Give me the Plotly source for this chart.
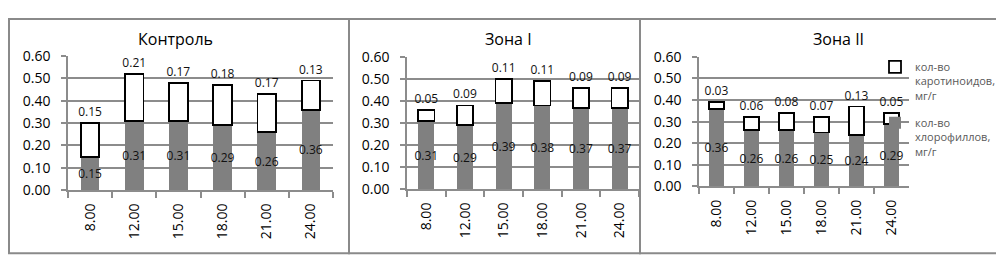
import plotly.graph_objects as go

times = ["8.00", "12.00", "15.00", "18.00", "21.00", "24.00"]
panel_titles = ["Контроль", "Зона I", "Зона II"]
chl_control = [0.15, 0.31, 0.31, 0.29, 0.26, 0.36]
car_control = [0.15, 0.21, 0.17, 0.18, 0.17, 0.13]
chl_zone1 = [0.31, 0.29, 0.39, 0.38, 0.37, 0.37]
car_zone1 = [0.05, 0.09, 0.11, 0.11, 0.09, 0.09]
chl_zone2 = [0.36, 0.26, 0.26, 0.25, 0.24, 0.29]
car_zone2 = [0.03, 0.06, 0.08, 0.07, 0.13, 0.05]
y_ticks = [0.0, 0.1, 0.2, 0.3, 0.4, 0.5, 0.6]
car_name = "кол-во<br>каротиноидов,<br>мг/г"
chl_name = "кол-во<br>хлорофиллов,<br>мг/г"

W, H = 1004, 256
FONT = "Open Sans"
GRID = "#8c8c8c"
GRAYBAR = "#808080"

# panel pixel geometry: (plot left, plot right, y of 0.6, y of 0)
geom = [(60, 325, 41, 186), (399, 631, 42, 185), (691, 901, 42, 182)]
title_x = [167, 500, 830]
borders = [(1, 341), (341, 632), (632, 1001)]

data = [(chl_control, car_control), (chl_zone1, car_zone1), (chl_zone2, car_zone2)]

fig = go.Figure()
for i, (chl, car) in enumerate(data):
    xa = "x" if i == 0 else f"x{i+1}"
    ya = "y" if i == 0 else f"y{i+1}"
    show = i == 2
    fig.add_trace(go.Bar(
        x=times, y=chl, xaxis=xa, yaxis=ya, name=chl_name, legendgroup="chl",
        legendrank=2,
        showlegend=show, marker=dict(color=GRAYBAR, line=dict(width=0)),
        text=[f"{v:.2f}" for v in chl], textposition="inside", insidetextanchor="middle",
        textangle=0, constraintext="none",
        textfont=dict(size=12, color="#111", family=FONT),
        insidetextfont=dict(size=12, color="#111", family=FONT),
        width=0.42,
    ))
    fig.add_trace(go.Bar(
        x=times, y=car, xaxis=xa, yaxis=ya, name=car_name, legendgroup="car",
        legendrank=1,
        showlegend=show, marker=dict(color="white", line=dict(width=1.8, color="#000")),
        text=[f"{v:.2f}" for v in car], textposition="outside", textangle=0,
        constraintext="none", textfont=dict(size=12, color="#111", family=FONT),
        outsidetextfont=dict(size=12, color="#111", family=FONT),
        cliponaxis=False, width=0.42,
    ))

layout = dict(
    width=W, height=H, margin=dict(l=0, r=0, t=0, b=0),
    paper_bgcolor="white", plot_bgcolor="white", barmode="stack",
    font=dict(family=FONT, color="#000"),
    legend=dict(x=867 / W, y=1 - 38 / H, xanchor="left", yanchor="top",
                font=dict(size=11, color="#595959", family=FONT),
                traceorder="grouped",
                valign="top", tracegroupgap=10, bgcolor="rgba(0,0,0,0)"),
    shapes=[], annotations=[],
)
for i, (xl, xr, ytop, ybot) in enumerate(geom):
    sfx = "" if i == 0 else str(i + 1)
    layout["xaxis" + sfx] = dict(
        domain=[xl / W, xr / W], anchor="y" + sfx, type="category",
        showline=True, linecolor=GRID, linewidth=1.5, ticks="outside",
        tickson="boundaries", ticklen=6, tickcolor=GRID, tickwidth=1.5,
        tickangle=-90, tickfont=dict(size=14, color="#000", family=FONT),
        showgrid=False, ticklabelstandoff=6,
    )
    layout["yaxis" + sfx] = dict(
        domain=[1 - ybot / H, 1 - ytop / H], anchor="x" + sfx, range=[0, 0.6],
        tickvals=y_ticks, ticktext=[f"{v:.2f}" for v in y_ticks],
        showline=True, linecolor=GRID, linewidth=1.5, ticks="outside", ticklen=5,
        tickcolor=GRID, tickwidth=1.5, showgrid=True, gridcolor=GRID, gridwidth=1.5,
        zeroline=False, tickfont=dict(size=14, color="#000", family=FONT),
        ticklabelstandoff=8,
    )
    layout["annotations"].append(dict(
        text=panel_titles[i], x=title_x[i] / W, y=1 - 23 / H, xref="paper", yref="paper",
        showarrow=False, xanchor="center", yanchor="middle",
        font=dict(size=16, color="#000", family=FONT)))
for x0, x1 in borders:
    layout["shapes"].append(dict(type="rect", xref="paper", yref="paper",
                                 x0=x0 / W, x1=x1 / W, y0=1 - 254 / H, y1=1 - 1 / H,
                                 line=dict(color="#8a8a8a", width=2)))

fig.update_layout(**layout)
fig.write_html("out.html")
